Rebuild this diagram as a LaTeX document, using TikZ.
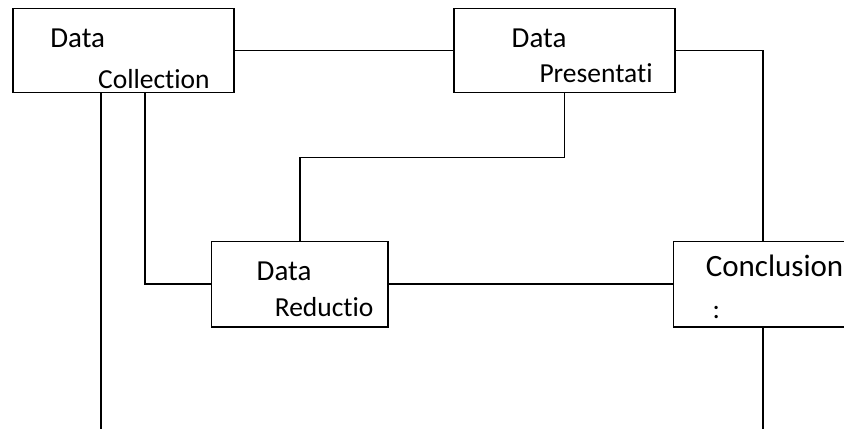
\documentclass[tikz,border=0pt]{standalone}
\usepackage{fontspec}
\setmainfont{Carlito}[Ligatures = NoCommon]
\usepackage{tikz}

\begin{document}
\begin{tikzpicture}[x=1pt, y=-1pt,
        stagebox/.style = {draw = black, line width = 1.5pt, fill = white, inner sep = 0pt},
        headtext/.style = {inner sep = 0pt, anchor = base west, font = \fontsize{29}{34}\selectfont},
        subtext/.style = {inner sep = 0pt, anchor = base west, font = \fontsize{27.5}{32}\selectfont},
        link/.style = {draw = black, line width = 1.7pt}]
        \clip (0, 0) rectangle (844, 429);
        \fill[white] (0, 0) rectangle (844, 429);
        % boxes
        \node[stagebox, minimum width = 221pt, minimum height = 84pt] (collection) at (123.5, 50.5) {};
        \node[stagebox, minimum width = 221pt, minimum height = 84pt] (presentation) at (564.5, 50.5) {};
        \node[stagebox, minimum width = 176.5pt, minimum height = 85.5pt] (reduction) at (299.75, 284.25) {};
        \node[stagebox, minimum width = 178.4pt, minimum height = 85.5pt] (conclusion) at (762.7, 284.25) {};
        % loose ends at the bottom
        \coordinate (collectionout) at (101, 429);
        \coordinate (conclusionout) at (762.7, 429);
        % connectors
        \draw[link] (collection.east) -- (presentation.west);
        \draw[link] (presentation.east) -| (conclusion.north);
        \draw[link] (presentation.south) -- ++(0, 64.2) -| (reduction.north);
        \draw[link] ([xshift = 21.5pt]collection.south) |- (reduction.west);
        \draw[link] ([xshift = -22.5pt]collection.south) -- (collectionout);
        \draw[link] (reduction.east) -- (conclusion.west);
        \draw[link] (conclusion.south) -- (conclusionout);
        % labels
        \node[headtext] (collectionhead) at (50.2, 47.3) {Data};
        \node[subtext] (collectionsub) at (97.9, 88.3) {Collection};
        \node[headtext] (presentationhead) at (511.5, 47.3) {Data};
        \node[subtext] (presentationsub) at (539.3, 82.7) {Presentati};
        \node[headtext] (reductionhead) at (256.5, 280.7) {Data};
        \node[subtext] (reductionsub) at (274.6, 316) {Reductio};
        \node[headtext, font = \fontsize{31}{36}\selectfont] (conclusionhead) at (705.6, 276.7) {Conclusion};
        \node[subtext] (conclusionsub) at (712.3, 318) {:};
    \end{tikzpicture}
\end{document}
